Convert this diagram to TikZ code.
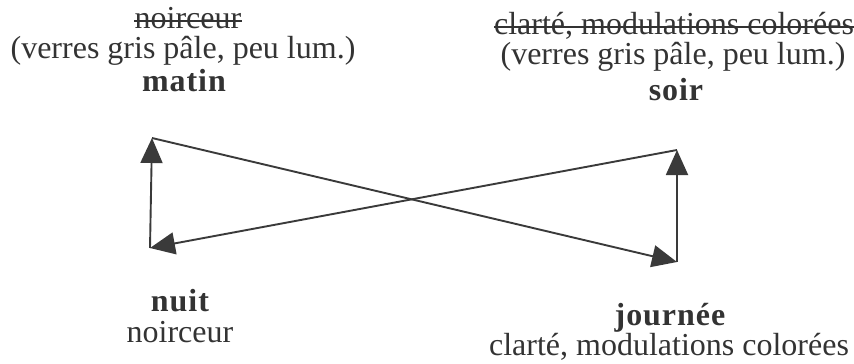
\documentclass[tikz,border=0pt]{standalone}
\usepackage{fontspec}
\usepackage{tikz}
\setmainfont{Liberation Serif}
\definecolor{encre}{HTML}{333333}
\definecolor{trait}{HTML}{3A3A3A}
\usetikzlibrary{arrows.meta}
\newcommand{\titre}[1]{{\bfseries\addfontfeature{LetterSpace=3}#1}}
\tikzset{txt/.style={
    anchor=base,
    inner sep=0,
    text=encre,
    font=\fontsize{32}{33}\selectfont}}
\tikzset{barre/.style={
    draw=encre,
    line width=1.4pt}}
\tikzset{fleche/.style={
    draw=trait,
    line width=1.9pt,
    -{Triangle[length=25pt,width=22pt]}}}

\begin{document}
\begin{tikzpicture}[x=1pt, y=-1pt]
  \useasboundingbox (0,0) rectangle (854,364);
  \coordinate (matin) at (152,138);
\coordinate (nuit) at (150,248);
\coordinate (soir) at (677,150);
\coordinate (journee) at (677,262);

% textes du haut
\node[txt] (m1) at (188,28) {noirceur};
\node[txt] (m2) at (183,58) {(verres gris pâle, peu lum.)};
\node[txt] (m3) at (184,91) {\titre{matin}};

\node[txt] (s1) at (674,34) {clarté, modulations colorées};
\node[txt] (s2) at (673,64) {(verres gris pâle, peu lum.)};
\node[txt] (s3) at (676,100) {\titre{soir}};

% textes barres
\draw[barre] ([yshift=7pt]m1.base west) -- ([yshift=7pt]m1.base east);
\draw[barre] ([yshift=7pt]s1.base west) -- ([yshift=7pt]s1.base east);

% textes du bas
\node[txt] (n1) at (180,311) {\titre{nuit}};
\node[txt] (n2) at (180,342) {noirceur};

\node[txt] (j1) at (670,325) {\titre{journée}};
\node[txt] (j2) at (669,355) {clarté, modulations colorées};

  \draw[fleche] (nuit) -- (matin);
  \draw[fleche] (matin) -- (journee);
  \draw[fleche] (journee) -- (soir);
  \draw[fleche] (soir) -- (nuit);
\end{tikzpicture}
\end{document}
